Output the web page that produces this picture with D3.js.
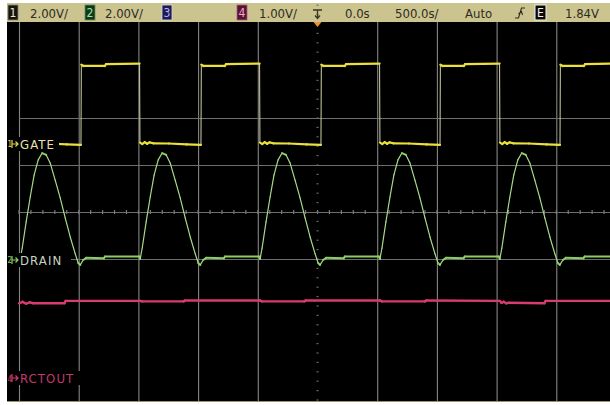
<!DOCTYPE html>
<html>
<head>
<meta charset="utf-8">
<script src="https://cdn.jsdelivr.net/npm/d3@7"></script>
<style>
  body { margin: 0; background: #fff; }
  svg { display: block; }
  text { font-family: "Liberation Sans Narrow", "DejaVu Sans Condensed", "Liberation Sans", sans-serif; }
</style>
</head>
<body>
<div id="chart"></div>
<script>
// ---- scope settings shown in the header ----
const channelNames = ["1", "2", "3", "4"];
const channelScales = ["2.00V/", "2.00V/", "", "1.00V/"];
const timeInfo = ["0.0s", "500.0s/", "Auto"];
const triggerSource = "E";
const triggerLevel = "1.84V";
const traceLabels = ["GATE", "DRAIN", "RCTOUT"];

// ---- graticule (time in ns, vertical in divisions) ----
const gridTimes = [-2500, -2000, -1500, -1000, -500, 500, 1000, 1500, 2000, 2500];
const gridDivs = [2, 1, 0, -1];

// ---- traces: [time ns, volts] ----
const gateTrace = [
  [-2491, 0.06], [-2471, 0.00], [-2451, 0.08], [-2431, 0.01], [-2411, 0.07], [-2380, 0.03], [-2250, 0.02], [-2100, -0.02], [-1981, -0.04],
  [-1978, 3.38], [-1960, 3.32], [-1781, 3.32], [-1771, 3.40], [-1490, 3.42],
  [-1487, 0.06], [-1467, 0.00], [-1447, 0.08], [-1427, 0.01], [-1407, 0.07], [-1376, 0.03], [-1246, 0.02], [-1096, -0.02], [-976, -0.04],
  [-973, 3.38], [-955, 3.32], [-776, 3.32], [-766, 3.40], [-485, 3.42],
  [-482, 0.06], [-462, 0.00], [-442, 0.08], [-422, 0.01], [-402, 0.07], [-371, 0.03], [-241, 0.02], [-91, -0.02], [29, -0.04],
  [32, 3.38], [50, 3.32], [229, 3.32], [239, 3.40], [520, 3.42],
  [523, 0.06], [543, 0.00], [563, 0.08], [583, 0.01], [603, 0.07], [634, 0.03], [764, 0.02], [914, -0.02], [1026, -0.04],
  [1029, 3.38], [1047, 3.32], [1226, 3.32], [1236, 3.40], [1525, 3.42],
  [1528, 0.06], [1548, 0.00], [1568, 0.08], [1588, 0.01], [1608, 0.07], [1639, 0.03], [1769, 0.02], [1919, -0.02], [2031, -0.04],
  [2034, 3.38], [2052, 3.32], [2231, 3.32], [2241, 3.40], [2450, 3.42]
];

const drainTrace = [
  [-2490, 0.04], [-2473, 0.51], [-2440, 1.62], [-2406, 2.68], [-2373, 3.62], [-2339, 4.26], [-2306, 4.55], [-2272, 4.47], [-2239, 4.13],
  [-2197, 3.40], [-2155, 2.64], [-2113, 1.79], [-2071, 0.98], [-2029, 0.26], [-2004, -0.13], [-1987, -0.21], [-1962, 0.00], [-1937, 0.09],
  [-1790, 0.07], [-1780, 0.15], [-1493, 0.15],
  [-1485, 0.04], [-1468, 0.51], [-1435, 1.62], [-1401, 2.68], [-1368, 3.62], [-1334, 4.26], [-1301, 4.55], [-1267, 4.47], [-1234, 4.13],
  [-1192, 3.40], [-1150, 2.64], [-1108, 1.79], [-1066, 0.98], [-1024, 0.26], [-999, -0.13], [-982, -0.21], [-957, 0.00], [-932, 0.09],
  [-785, 0.07], [-775, 0.15], [-489, 0.15],
  [-481, 0.04], [-464, 0.51], [-431, 1.62], [-397, 2.68], [-364, 3.62], [-330, 4.26], [-297, 4.55], [-263, 4.47], [-230, 4.13],
  [-188, 3.40], [-146, 2.64], [-104, 1.79], [-62, 0.98], [-20, 0.26], [5, -0.13], [22, -0.21], [47, 0.00], [72, 0.09],
  [219, 0.07], [229, 0.15], [515, 0.15],
  [523, 0.04], [540, 0.51], [573, 1.62], [607, 2.68], [640, 3.62], [674, 4.26], [707, 4.55], [741, 4.47], [774, 4.13],
  [816, 3.40], [858, 2.64], [900, 1.79], [942, 0.98], [984, 0.26], [1009, -0.13], [1026, -0.21], [1051, 0.00], [1076, 0.09],
  [1223, 0.07], [1233, 0.15], [1519, 0.15],
  [1527, 0.04], [1544, 0.51], [1577, 1.62], [1611, 2.68], [1644, 3.62], [1678, 4.26], [1711, 4.55], [1745, 4.47], [1778, 4.13],
  [1820, 3.40], [1862, 2.64], [1904, 1.79], [1946, 0.98], [1988, 0.26], [2013, -0.13], [2030, -0.21], [2055, 0.00], [2080, 0.09],
  [2227, 0.07], [2237, 0.15], [2450, 0.15]
];

const rctTrace = [
  [-2500, 1.59], [-2470, 1.62], [-2440, 1.58], [-2410, 1.61], [-2380, 1.59], [-2120, 1.59], [-2110, 1.64], [-1487, 1.64],
  [-1470, 1.63], [-1120, 1.63], [-1110, 1.65], [-482, 1.65],
  [-465, 1.63], [-110, 1.63], [-100, 1.65], [523, 1.65],
  [540, 1.63], [900, 1.63], [910, 1.65], [1528, 1.64],
  [1540, 1.60], [1560, 1.62], [1580, 1.59], [1600, 1.60], [1900, 1.59], [1910, 1.64], [2450, 1.64]
];

// ---- layout ----
const svg = d3.select("#chart").append("svg").attr("width", 610).attr("height", 405);
const screen = { left: 7, top: 22, right: 610, bottom: 401 };

const x = d3.scaleLinear().domain([-2500, 2500]).range([19, 616]);
const yDiv = d3.scaleLinear().domain([-4, 4]).range([400, 24]);

// channel volts -> divisions (volts/div and ground offset in div)
const chY = {
  gate:  v => yDiv(v / 2 + 1.447),
  drain: v => yDiv(v / 2 - 1.021),
  rct:   v => yDiv(v / 1 - 3.532)
};

svg.append("rect").attr("width", 610).attr("height", 405).attr("fill", "#fff");
svg.append("rect").attr("x", 7).attr("y", 3).attr("width", 603).attr("height", 19).attr("fill", "#cbc48f");
svg.append("rect").attr("x", screen.left).attr("y", screen.top)
  .attr("width", screen.right - screen.left).attr("height", screen.bottom - screen.top).attr("fill", "#000");
svg.append("line").attr("x1", 7).attr("x2", 610).attr("y1", 401.5).attr("y2", 401.5)
  .attr("stroke", "#9a9270").attr("stroke-width", 1);

// grid
const grid = svg.append("g");
const xGrid = grid.append("g").attr("transform", `translate(0,${screen.top})`)
  .call(d3.axisBottom(x).tickValues(gridTimes).tickSize(screen.bottom - screen.top).tickFormat(""));
xGrid.select(".domain").remove();
xGrid.selectAll("line").attr("stroke", "#858585").attr("stroke-width", 1.1);

const yGrid = grid.append("g").attr("transform", "translate(19,0)")
  .call(d3.axisRight(yDiv).tickValues(gridDivs).tickSize(610 - 19).tickFormat(""));
yGrid.select(".domain").remove();
yGrid.selectAll("line").attr("stroke", "#6e6e6e").attr("stroke-width", 1);

// centre axes with minor ticks
const minorDivs = d3.range(-40, 41).map(d => d / 5);
grid.selectAll(".vdot").data(minorDivs).enter().append("rect")
  .attr("x", x(0) - 1).attr("y", d => yDiv(d) - 0.6).attr("width", 2).attr("height", 1.2)
  .attr("fill", "#6a6a6a");
const minorTimes = d3.range(-25, 26).map(d => d * 100);
grid.selectAll(".hdot").data(minorTimes).enter().append("rect")
  .attr("x", d => x(d) - 0.6).attr("y", yDiv(0) - 2).attr("width", 1.2).attr("height", 4)
  .attr("fill", "#7a7a7a");

// traces drawn as segments: flat parts bright/thick, steep edges thin
function drawTrace(data, yf, flatColor, edgeColor, flatWidth, edgeWidth, steep) {
  const segs = d3.pairs(data);
  const g = svg.append("g");
  g.selectAll("line").data(segs).enter().append("line")
    .attr("x1", d => x(d[0][0])).attr("y1", d => yf(d[0][1]))
    .attr("x2", d => x(d[1][0])).attr("y2", d => yf(d[1][1]))
    .attr("stroke", d => Math.abs(yf(d[1][1]) - yf(d[0][1])) > steep ? edgeColor : flatColor)
    .attr("stroke-width", d => Math.abs(yf(d[1][1]) - yf(d[0][1])) > steep ? edgeWidth : flatWidth)
    .attr("stroke-linecap", "round");
}
drawTrace(rctTrace, chY.rct, "#d83a72", "#d83a72", 2.4, 2.4, 10);
drawTrace(drainTrace, chY.drain, "#8ccf62", "#a8da8a", 2, 1.2, 3);
drawTrace(gateTrace, chY.gate, "#ece03a", "#d6d3a6", 2.2, 1, 10);

// trace labels with ground markers
const labelInfo = [
  { name: traceLabels[0], ch: "1", y: chY.gate(0), color: "#e6e2b0", mark: "#e0d850", w: 52 },
  { name: traceLabels[1], ch: "2", y: chY.drain(0), color: "#c8d4c0", mark: "#8ccf62", w: 64 },
  { name: traceLabels[2], ch: "4", y: chY.rct(0), color: "#c23a6c", mark: "#d83a72", w: 74 }
];
const lab = svg.selectAll(".lab").data(labelInfo).enter().append("g");
lab.append("rect").attr("x", 7).attr("y", d => d.y - 7).attr("width", d => d.w).attr("height", 14).attr("fill", "#000");
lab.append("text").attr("x", 7.5).attr("y", d => d.y + 3.5).attr("font-size", 8)
  .attr("fill", d => d.mark).text(d => d.ch);
lab.append("path")
  .attr("d", d => `M12,${d.y - 4}v8M12,${d.y}h6M15.5,${d.y - 2.5}l2.5,2.5l-2.5,2.5`)
  .attr("stroke", d => d.mark).attr("stroke-width", 1.2).attr("fill", "none");
lab.append("text").attr("x", 20).attr("y", d => d.y + 5).attr("font-size", 13)
  .attr("fill", d => d.color).attr("letter-spacing", 1.1).text(d => d.name);

// header
const head = svg.append("g").attr("font-size", 13).attr("fill", "#2e2c22");
const boxStyle = [
  { x: 8, fill: "#141410", text: "#e8e6d0", stroke: "#8a8670" },
  { x: 85, fill: "#0e3a1c", text: "#a8e29a", stroke: "#6a8a60" },
  { x: 162, fill: "#1e1a52", text: "#b4aef2", stroke: "#d8d8e8" },
  { x: 237, fill: "#5a1232", text: "#f0a8c8", stroke: "#a06080" }
];
const scaleX = [30, 105, 0, 259];
channelNames.forEach((c, i) => {
  const b = boxStyle[i];
  head.append("rect").attr("x", b.x).attr("y", 5).attr("width", 10).attr("height", 15)
    .attr("fill", b.fill).attr("stroke", b.stroke).attr("stroke-width", 0.8);
  head.append("text").attr("x", b.x + 5).attr("y", 17).attr("text-anchor", "middle")
    .attr("font-size", 12).attr("fill", b.text).text(c);
  if (channelScales[i]) head.append("text").attr("x", scaleX[i]).attr("y", 18).text(channelScales[i]);
});

// trigger position marker
head.append("path").attr("d", "M313,10h9M317.5,10v8M315,15.5l2.5,3l2.5,-3")
  .attr("stroke", "#3a3626").attr("stroke-width", 1.3).attr("fill", "none");
svg.append("path").attr("d", `M${x(0) - 4},22L${x(0) + 4},22L${x(0)},27Z`).attr("fill", "#e89434");

const timeX = [345, 395, 465];
timeInfo.forEach((t, i) => head.append("text").attr("x", timeX[i]).attr("y", 18).text(t));

// trigger slope symbol
head.append("path").attr("d", "M515,18h3.5l3,-10h3.5M518.5,14l3,-2.5l1,3.5")
  .attr("stroke", "#2e2c22").attr("stroke-width", 1.1).attr("fill", "none");

head.append("rect").attr("x", 535).attr("y", 5).attr("width", 11).attr("height", 15)
  .attr("fill", "#0a0a0a").attr("stroke", "#f0f0e8").attr("stroke-width", 1);
head.append("text").attr("x", 540.5).attr("y", 17).attr("text-anchor", "middle")
  .attr("font-size", 12).attr("fill", "#f4f4f0").text(triggerSource);
head.append("text").attr("x", 565).attr("y", 18).text(triggerLevel);
</script>
</body>
</html>
